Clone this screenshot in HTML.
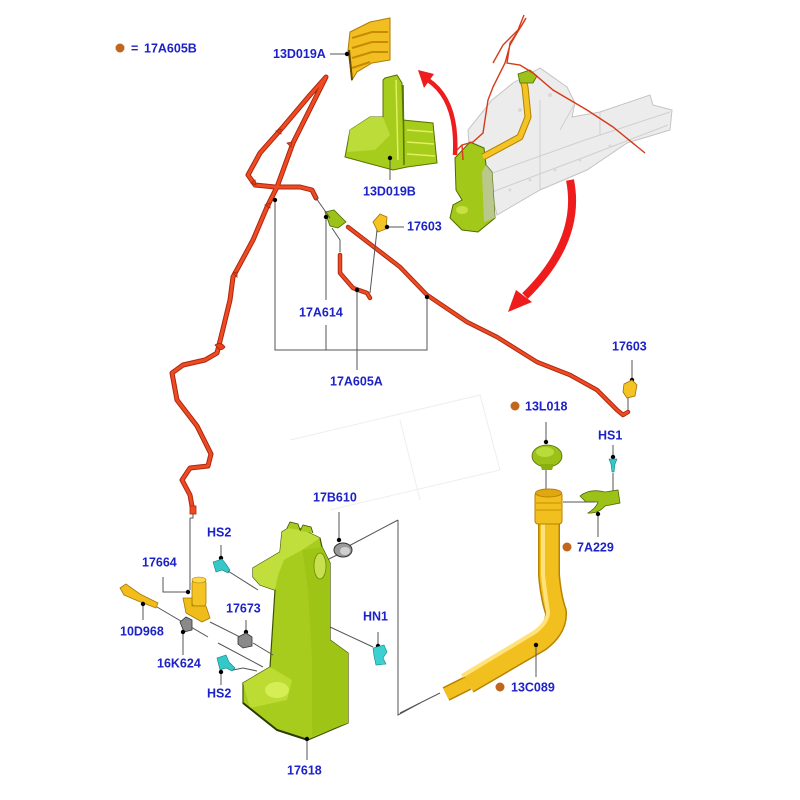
<!DOCTYPE html>
<html><head><meta charset="utf-8"><style>
html,body{margin:0;padding:0;background:#fff;}
svg{display:block;}
text{font-family:"Liberation Sans",Arial,sans-serif;font-weight:bold;font-size:12.5px;fill:#1c22c8;}
</style></head><body>
<svg width="800" height="800" viewBox="0 0 800 800" xmlns="http://www.w3.org/2000/svg">
<rect width="800" height="800" fill="#fff"/>

<!-- faint background lines -->
<g stroke="#eeeeee" stroke-width="1" fill="none">
<path d="M290,440 L480,395 L500,470 L330,510"/>
<path d="M400,420 L420,500"/>
</g>

<!-- legend -->
<circle cx="120" cy="48" r="4.5" fill="#c0661e"/>
<text x="131" y="52.5">=</text>
<text x="144" y="52.5">17A605B</text>

<!-- 13D019A yellow bracket -->
<polygon points="348,50 350,32 370,22 390,18 390,60 372,63 357,72 352,80" fill="#f2bf22" stroke="#b07a00" stroke-width="1"/>
<g stroke="#c88a00" stroke-width="2" fill="none">
<path d="M352,38 L372,32 L388,32"/><path d="M352,48 L372,42 L388,42"/><path d="M352,58 L372,52 L388,52"/><path d="M352,68 L370,62"/>
</g>
<path d="M349,50 L352,80" stroke="#6a4a00" stroke-width="2"/>
<line x1="330" y1="54" x2="348" y2="54" stroke="#555" stroke-width="1"/>
<circle cx="347" cy="54" r="2.2" fill="#000"/>
<text x="273" y="58">13D019A</text>

<!-- 13D019B green bracket -->
<polygon points="383,80 385,78 397,75 402,83 403,120 433,123 437,163 407,167 393,170 367,163 345,157 350,130 370,117 383,117" fill="#a6cc1c" stroke="#5a7200" stroke-width="1"/>
<polygon points="350,130 370,117 383,117 390,135 375,150 347,152" fill="#bcdc3a"/>
<g stroke="#e0f060" stroke-width="1.5" fill="none">
<path d="M407,130 L433,132"/><path d="M407,142 L434,144"/><path d="M407,154 L435,156"/>
<path d="M396,80 L398,160"/>
</g>
<path d="M403,85 L404,165" stroke="#5a7200" stroke-width="1.5"/>
<line x1="390" y1="158" x2="390" y2="180" stroke="#555" stroke-width="1"/>
<circle cx="390" cy="158" r="2.2" fill="#000"/>
<text x="363" y="195.5">13D019B</text>

<!-- body frame -->
<polygon points="468,130 492,100 513,83 540,68 567,87 575,103 572,117 600,112 650,95 653,105 672,110 670,130 627,143 587,170 540,190 497,215 487,175 470,160" fill="#ececec" stroke="#c4c4c4" stroke-width="1"/>
<g stroke="#cfcfcf" stroke-width="1" fill="none">
<path d="M487,175 L585,140 L670,112"/>
<path d="M492,192 L590,155 L668,125"/>
<path d="M540,190 L540,100"/>
<path d="M600,112 L600,135"/>
<path d="M575,103 L560,130"/>
</g>
<g fill="#d8d8d8">
<circle cx="510" cy="190" r="1.5"/><circle cx="530" cy="180" r="1.5"/><circle cx="555" cy="170" r="1.5"/><circle cx="580" cy="160" r="1.5"/><circle cx="610" cy="146" r="1.5"/><circle cx="520" cy="110" r="2"/><circle cx="550" cy="95" r="2"/>
</g>

<!-- small green reservoir -->
<polygon points="455,158 470,142 484,148 486,165 492,172 495,218 478,232 462,230 450,218 453,205 462,200 456,190" fill="#a2c81a" stroke="#506a00" stroke-width="1"/>
<polygon points="486,165 492,172 495,218 484,222 482,172" fill="#c0c8a8" opacity="0.8"/>
<ellipse cx="462" cy="210" rx="6" ry="4" fill="#c8e040"/>
<!-- yellow tube top -->
<path d="M483,157 L520,137 L528,117 L525,87 L522,77" stroke="#b08000" stroke-width="7" fill="none" stroke-linejoin="round"/>
<path d="M483,157 L520,137 L528,117 L525,87 L522,77" stroke="#f4c424" stroke-width="5" fill="none" stroke-linejoin="round"/>
<polygon points="518,74 530,70 537,76 533,83 520,83" fill="#9cc21a" stroke="#4e6a00" stroke-width="0.8"/>
<!-- thin red hoses top -->
<g stroke="#d63a18" stroke-width="1.4" fill="none">
<path d="M457,150 L462,145 L473,142 L483,133 L488,100 L493,87 L505,63 L510,45 L517,33 L526,18 L522,25 L510,43 L507,63 L520,65 L533,73 L553,90 L587,110 L613,127 L645,153"/>
<path d="M493,63 L503,45 L518,30 L524,15"/>
<path d="M462,145 L463,160"/>
</g>

<!-- red arrows -->
<path d="M455,155 Q458,100 428,80" stroke="#ee1c1c" stroke-width="4.5" fill="none"/>
<polygon points="418,70 434,74 424,88" fill="#ee1c1c"/>
<path d="M570,180 Q582,240 525,296" stroke="#ee1c1c" stroke-width="8" fill="none"/>
<polygon points="508,312 516,290 532,302" fill="#ee1c1c"/>

<!-- main red hose -->
<g fill="none" stroke-linejoin="round" stroke-linecap="round">
<path d="M193,512 L190,495 L182,480 L190,468 L208,466 L211,454 L197,426 L177,400 L172,373 L183,365 L205,360 L217,353 L222,333 L230,300 L233,277 L253,240 L267,207 L277,187 L293,143 L313,103 L326,77 L310,95 L283,127 L260,153 L248,175 L255,185 L275,187 L300,187 L312,190 L316,198" stroke="#a82810" stroke-width="5"/>
<path d="M193,512 L190,495 L182,480 L190,468 L208,466 L211,454 L197,426 L177,400 L172,373 L183,365 L205,360 L217,353 L222,333 L230,300 L233,277 L253,240 L267,207 L277,187 L293,143 L313,103 L326,77 L310,95 L283,127 L260,153 L248,175 L255,185 L275,187 L300,187 L312,190 L316,198" stroke="#f04a22" stroke-width="3"/>
<path d="M348,227 L400,267 L427,295 L467,322 L497,337 L537,362 L570,375 L597,390 L617,410 L623,415 L628,412" stroke="#a82810" stroke-width="4.5"/>
<path d="M348,227 L400,267 L427,295 L467,322 L497,337 L537,362 L570,375 L597,390 L617,410 L623,415 L628,412" stroke="#f04a22" stroke-width="2.6"/>
<path d="M340,255 L340,273 L353,288 L367,293 L370,298" stroke="#a82810" stroke-width="4.5"/>
<path d="M340,255 L340,273 L353,288 L367,293 L370,298" stroke="#f04a22" stroke-width="2.6"/>
</g>
<!-- clips on hose -->
<g fill="#e84018" stroke="#a82810" stroke-width="0.8">
<path d="M215,345 q6,-4 10,2 q-3,4 -6,2z"/>
<path d="M276,131 l5,-2 l0,5z"/><path d="M287,143 l5,-1 l-1,5z"/><path d="M251,183 l4,-3 l1,5z"/><path d="M265,205 l5,-2 l0,5z"/><path d="M233,273 l4,-1 l0,5z"/>
</g>
<!-- connector 17A614 -->
<polygon points="325,212 334,210 340,216 346,222 338,228 330,226" fill="#9cc21a" stroke="#4e6a00" stroke-width="0.8"/>
<!-- 17603 top part -->
<polygon points="373,222 380,214 387,217 386,229 378,232" fill="#f4c424" stroke="#a07000" stroke-width="0.8"/>

<!-- leader lines top-middle -->
<g stroke="#555" stroke-width="1" fill="none">
<path d="M316,198 L330,218"/>
<path d="M332,228 L340,240 L340,252"/>
<path d="M377,230 L370,293"/>
<path d="M387,227 L404,227"/>
<path d="M275,200 L275,350 L427,350 L427,297"/>
<path d="M326,217 L326,300"/><path d="M326,325 L326,350"/>
<path d="M357,290 L357,370"/>
<path d="M632,360 L632,380"/>
<path d="M628,395 L628,410"/>
</g>
<g fill="#000">
<circle cx="275" cy="200" r="2.2"/><circle cx="326" cy="217" r="2.2"/><circle cx="387" cy="227" r="2.2"/><circle cx="357" cy="290" r="2.2"/><circle cx="427" cy="297" r="2.2"/><circle cx="632" cy="380" r="2.2"/>
</g>
<text x="407" y="230.5">17603</text>
<text x="299" y="316.5">17A614</text>
<text x="330" y="385.5">17A605A</text>
<text x="612" y="350.5">17603</text>
<!-- 17603 right part -->
<polygon points="624,384 632,380 637,385 635,396 627,398 623,392" fill="#f4c424" stroke="#a07000" stroke-width="0.8"/>

<!-- 13L018 cap -->
<circle cx="515" cy="406" r="4.5" fill="#c0661e"/>
<text x="525" y="410.5">13L018</text>
<line x1="546" y1="422" x2="546" y2="442" stroke="#555"/>
<circle cx="546" cy="442" r="2.2" fill="#000"/>
<ellipse cx="547" cy="456" rx="15" ry="11" fill="#9cc21a" stroke="#4e6a00" stroke-width="0.8"/>
<ellipse cx="545" cy="452" rx="9" ry="5" fill="#b8dc3a"/>
<path d="M540,464 L554,464 L552,470 L542,470z" fill="#8ab010"/>
<line x1="546" y1="470" x2="546" y2="495" stroke="#555"/>

<!-- HS1 -->
<text x="598" y="439.5">HS1</text>
<line x1="613" y1="445" x2="613" y2="458" stroke="#555"/>
<circle cx="613" cy="457" r="2.2" fill="#000"/>
<path d="M609,459 L617,459 L615,464 L614,472 L612,472 L611,464z" fill="#34c8c8" stroke="#108080" stroke-width="0.6"/>
<line x1="613" y1="473" x2="613" y2="492" stroke="#555"/>

<!-- 7A229 clip -->
<path d="M580,496 Q590,488 605,492 L618,490 L620,503 L605,506 Q598,514 588,513 Q596,508 598,502 L586,502z" fill="#9cc21a" stroke="#4e6a00" stroke-width="0.8"/>
<line x1="563" y1="502" x2="595" y2="502" stroke="#555"/>
<line x1="598" y1="514" x2="598" y2="537" stroke="#555"/>
<circle cx="598" cy="514" r="2.2" fill="#000"/>
<circle cx="567" cy="547" r="4.5" fill="#c0661e"/>
<text x="577" y="551.5">7A229</text>

<!-- filler neck 13C089 -->
<g fill="none" stroke-linejoin="round">
<path d="M549,520 L549,575 Q551,598 556,612 Q557,628 540,641 L468,683" stroke="#b88200" stroke-width="22"/>
<path d="M549,520 L549,575 Q551,598 556,612 Q557,628 540,641 L468,683" stroke="#f2c01e" stroke-width="19"/>
<path d="M468,683 L446,694" stroke="#b88200" stroke-width="15"/>
<path d="M468,683 L446,694" stroke="#f2c01e" stroke-width="12"/>
<path d="M543,522 L543,575 Q546,600 548,612 Q548,622 535,632 L462,676" stroke="#ffe27a" stroke-width="4"/>
</g>
<rect x="535" y="492" width="27" height="32" rx="3" fill="#f2c01e" stroke="#b88200" stroke-width="1"/>
<ellipse cx="548.5" cy="493" rx="13" ry="4" fill="#e0a810" stroke="#b88200" stroke-width="1"/>
<line x1="536" y1="503" x2="561" y2="503" stroke="#c89000"/>
<line x1="536" y1="510" x2="561" y2="510" stroke="#c89000"/>
<line x1="536" y1="645" x2="536" y2="677" stroke="#555"/>
<circle cx="536" cy="645" r="2.2" fill="#000"/>
<circle cx="500" cy="687" r="4.5" fill="#c0661e"/>
<text x="511" y="691.5">13C089</text>

<!-- box lines 17B610 -->
<g stroke="#555" stroke-width="1" fill="none">
<path d="M398,520 L398,715 L420,703"/>
<path d="M398,520 L345,548"/>
<path d="M400,713 L440,693"/>
<path d="M339,512 L339,540"/>
<path d="M337,555 L323,562"/>
</g>
<circle cx="339" cy="540" r="2.2" fill="#000"/>
<text x="313" y="501.5">17B610</text>
<ellipse cx="343" cy="550" rx="9" ry="7" fill="#9a9a9a" stroke="#333" stroke-width="1"/>
<ellipse cx="345" cy="551" rx="5" ry="4" fill="#d0d0d0"/>

<!-- tank 17618 -->
<polygon points="253,568 280,552 282,532 293,525 320,538 322,547 330,563 330,640 348,653 348,723 308,740 277,730 243,703 243,683 270,667 275,590 260,585 253,577" fill="#a8cc1e" stroke="#3e5200" stroke-width="1.2"/>
<polygon points="253,568 280,552 282,532 293,525 320,538 302,550 284,560 278,575 275,590 260,585 253,577" fill="#c0de3c"/>
<polygon points="302,550 322,547 330,563 330,640 348,653 348,723 312,736 312,660 308,590 304,560" fill="#9ec416"/>
<polygon points="243,683 270,667 292,680 287,700 250,708" fill="#bcdc34"/>
<ellipse cx="277" cy="690" rx="12" ry="8" fill="#d6ee56"/>
<ellipse cx="320" cy="566" rx="6" ry="13" fill="#c8e050" stroke="#6a8a00" stroke-width="0.8"/>
<path d="M287,528 l3,-6 l8,2 l2,6 M300,531 l3,-6 l8,2 l2,6" stroke="#3e5200" stroke-width="0.8" fill="#a8cc1e"/>
<path d="M243,703 L277,730 L308,740" stroke="#2a3a00" stroke-width="2" fill="none"/>
<line x1="307" y1="740" x2="307" y2="760" stroke="#555"/>
<circle cx="307" cy="739" r="2.2" fill="#000"/>
<text x="287" y="774.5">17618</text>

<!-- HN1 -->
<text x="363" y="620.5">HN1</text>
<line x1="378" y1="632" x2="378" y2="645" stroke="#555"/>
<circle cx="378" cy="646" r="2.2" fill="#000"/>
<path d="M373,648 L384,645 L387,652 L383,658 L386,664 L376,665 L374,656z" fill="#3cd0d0" stroke="#108888" stroke-width="0.6"/>
<line x1="373" y1="647" x2="330" y2="627" stroke="#555"/>

<!-- HS2 top -->
<text x="207" y="536.5">HS2</text>
<line x1="221" y1="545" x2="221" y2="558" stroke="#555"/>
<circle cx="221" cy="558" r="2.2" fill="#000"/>
<path d="M213,562 L222,559 L226,564 L230,570 L228,573 L222,570 L216,572z" fill="#34c8c8" stroke="#108080" stroke-width="0.6"/>
<line x1="228" y1="571" x2="258" y2="590" stroke="#555"/>

<!-- pump 17664 -->
<text x="142" y="566.5">17664</text>
<path d="M163,577 L163,592 L188,592" stroke="#555" fill="none"/>
<circle cx="188" cy="592" r="2.2" fill="#000"/>
<path d="M190,518 L190,590" stroke="#555" fill="none"/>
<path d="M193,512 L193,518 L190,518" stroke="#555" fill="none"/>
<rect x="190" y="506" width="6" height="8" fill="#f04a22" stroke="#a82810" stroke-width="0.8"/>
<rect x="192" y="580" width="14" height="26" rx="3" fill="#f4c424" stroke="#a87800" stroke-width="0.8"/>
<ellipse cx="199" cy="580" rx="7" ry="3" fill="#ffd84a" stroke="#a87800" stroke-width="0.6"/>
<path d="M183,598 L192,598 L192,606 L206,606 L210,618 L202,622 L186,613z" fill="#f0bc1a" stroke="#a87800" stroke-width="0.8"/>

<!-- 10D968 sensor -->
<path d="M120,588 L126,584 L140,594 L158,603 L156,608 L138,601 L124,595z" fill="#f2bc1c" stroke="#a87800" stroke-width="0.8"/>
<line x1="143" y1="605" x2="143" y2="620" stroke="#555"/>
<circle cx="143" cy="604" r="2.2" fill="#000"/>
<text x="120" y="635.5">10D968</text>
<path d="M157,607 L208,637 M218,643 L263,667" stroke="#555" fill="none"/>

<!-- 16K624 -->
<path d="M180,622 L186,617 L192,620 L192,630 L184,632z" fill="#8a8a8a" stroke="#333" stroke-width="0.8"/>
<line x1="183" y1="632" x2="183" y2="655" stroke="#555"/>
<circle cx="183" cy="632" r="2.2" fill="#000"/>
<text x="157" y="667.5">16K624</text>

<!-- 17673 -->
<text x="226" y="612.5">17673</text>
<line x1="246" y1="620" x2="246" y2="632" stroke="#555"/>
<circle cx="246" cy="632" r="2.2" fill="#000"/>
<path d="M238,637 L246,633 L252,637 L252,646 L243,648 L238,644z" fill="#8a8a8a" stroke="#333" stroke-width="0.8"/>
<path d="M210,622 L240,637 M253,643 L273,655" stroke="#555" fill="none"/>

<!-- HS2 bottom -->
<path d="M217,658 L226,655 L229,662 L235,668 L232,671 L226,668 L220,670z" fill="#34c8c8" stroke="#108080" stroke-width="0.6"/>
<line x1="221" y1="672" x2="221" y2="685" stroke="#555"/>
<circle cx="221" cy="672" r="2.2" fill="#000"/>
<path d="M233,670 L243,668 L257,671" stroke="#555" fill="none"/>
<text x="207" y="697.5">HS2</text>

</svg>
</body></html>
